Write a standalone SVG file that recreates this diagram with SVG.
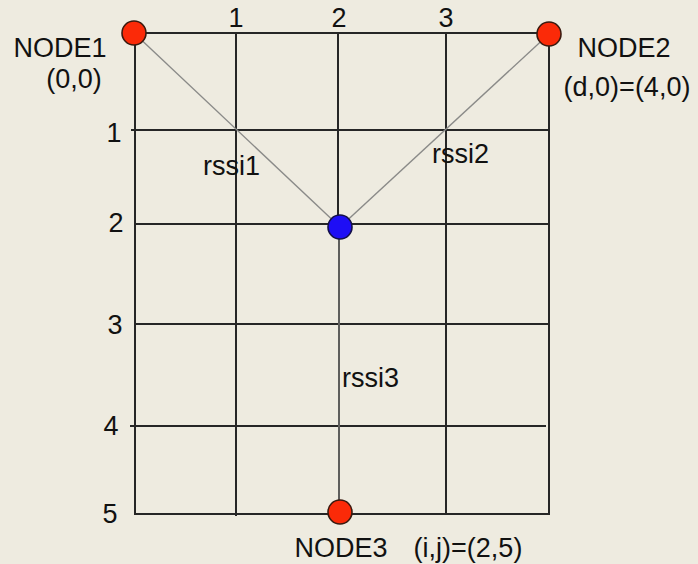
<svg xmlns="http://www.w3.org/2000/svg" width="698" height="564" viewBox="0 0 698 564">
<style>
.bg{fill:#eeebe0}
.grid line{stroke:#262626;stroke-width:2}
.conn line{stroke:#8a8a88;stroke-width:1.4}
.red{fill:#fb2a08;stroke:#3a1a10;stroke-width:1.6}
.blue{fill:#1e0ef5;stroke:#14104a;stroke-width:1.6}
text{font-family:"Liberation Sans",Arial,sans-serif;font-size:27px;fill:#111}
.m{text-anchor:middle}
</style>
<rect class="bg" width="698" height="564"/>
<g id="grid" class="grid">
<line x1="135" y1="33" x2="549" y2="33"/>
<line x1="131" y1="130" x2="549" y2="130"/>
<line x1="135" y1="224" x2="549" y2="224"/>
<line x1="134" y1="324" x2="549" y2="324"/>
<line x1="130" y1="426" x2="546" y2="426"/>
<line x1="134" y1="514" x2="550" y2="514"/>
<line x1="135" y1="33" x2="135" y2="514"/>
<line x1="236" y1="33" x2="236" y2="516"/>
<line x1="338" y1="33" x2="338" y2="226"/>
<line x1="446" y1="33" x2="446" y2="514"/>
<line x1="549" y1="33" x2="549" y2="514"/>
</g>
<g id="connectors" class="conn">
<line x1="134" y1="33" x2="340" y2="227"/>
<line x1="549" y1="34" x2="340" y2="227"/>
<line x1="339" y1="227" x2="339" y2="512" style="stroke:#5e5e5c;stroke-width:2"/>
</g>
<g id="axis-labels">
<text class="m" x="236" y="27">1</text>
<text class="m" x="339" y="27">2</text>
<text class="m" x="446" y="27">3</text>
<text class="m" x="114" y="142">1</text>
<text class="m" x="116" y="232">2</text>
<text class="m" x="115" y="334">3</text>
<text class="m" x="111" y="435">4</text>
<text class="m" x="110" y="523">5</text>
</g>
<g id="edge-labels">
<text x="203" y="175">rssi1</text>
<text x="432" y="163">rssi2</text>
<text x="342" y="387">rssi3</text>
</g>
<g id="node1">
<circle class="red" cx="134" cy="33" r="12"/>
<text class="m" x="60" y="57">NODE1</text>
<text class="m" x="74" y="88">(0,0)</text>
</g>
<g id="node2">
<circle class="red" cx="549" cy="34" r="12"/>
<text class="m" x="624" y="57">NODE2</text>
<text class="m" x="627" y="96">(d,0)=(4,0)</text>
</g>
<g id="node-center">
<circle class="blue" cx="340" cy="227" r="12"/>
</g>
<g id="node3">
<circle class="red" cx="340" cy="512" r="12"/>
<text class="m" x="341" y="557">NODE3</text>
<text class="m" x="468" y="557">(i,j)=(2,5)</text>
</g>
</svg>
